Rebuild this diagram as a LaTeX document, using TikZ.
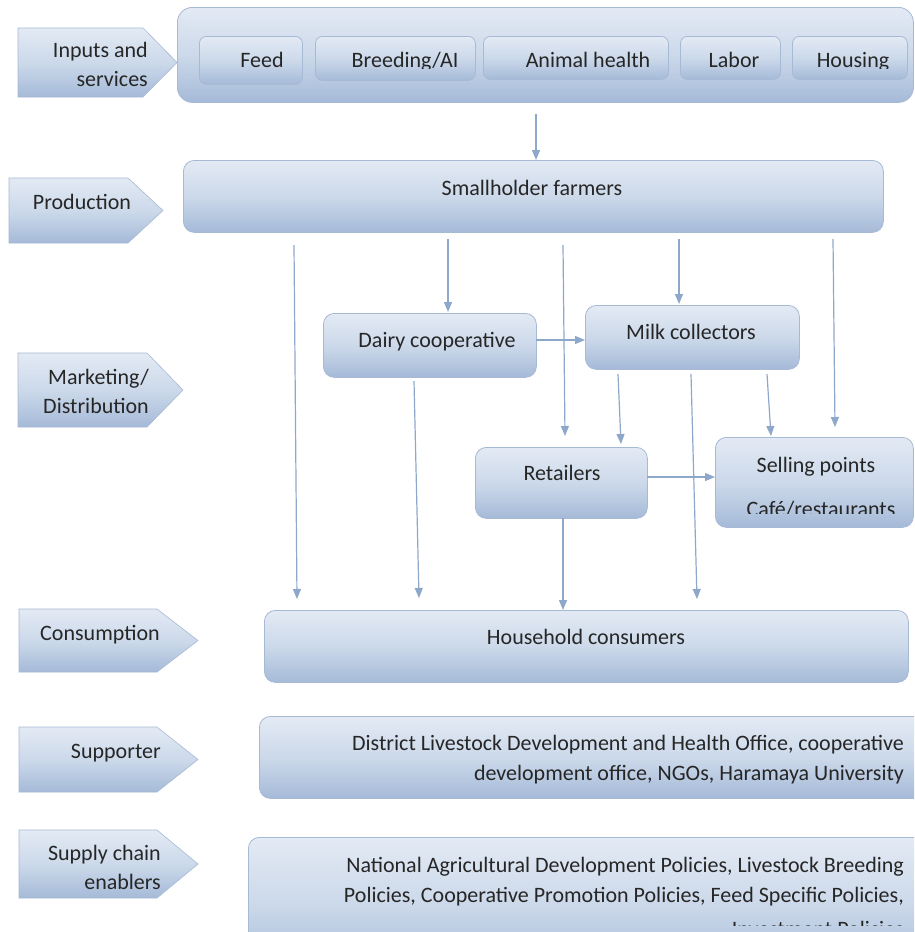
\documentclass[tikz,border=0pt]{standalone}
\usepackage{fontspec}
\setmainfont{Carlito}
\usetikzlibrary{arrows.meta}
\definecolor{bordc}{HTML}{A7BAD5}
\definecolor{ctop}{HTML}{E3EAF4}
\definecolor{cmid}{HTML}{CCD9EA}
\definecolor{cbot}{HTML}{A5BAD8}
\definecolor{arrc}{HTML}{8EA8CC}
\definecolor{txtc}{HTML}{262626}
\tikzset{
  box/.style={draw=bordc, line width=0.8pt, rounded corners=11pt, top color=ctop, bottom color=cbot, middle color=cmid, anchor=north west, inner sep=0pt},
  sbox/.style={box, rounded corners=7pt},
  chev/.style={draw=bordc, line width=0.6pt, top color=ctop, bottom color=cbot, middle color=cmid},
  lbl/.style={text=txtc, font=\fontsize{22}{29}\selectfont, inner sep=0pt},
  arr/.style={draw=arrc, line width=1.2pt, -{Triangle[width=8pt,length=10pt]}}
}
\newcommand{\mkbox}[6]{% style, name, x1,y1,x2,y2
  \node[#1, minimum width={#5-#3}, minimum height={#6-#4}] (#2) at (#3,#4) {};}
\newcommand{\mkchev}[6]{% name x1 y1 xb xt y2
  \path[chev] (#2,#3) -- (#4,#3) -- (#5,{(#3+#6)/2}) -- (#4,#6) -- (#2,#6) -- cycle;
  \coordinate (#1) at ({(#2+#5)/2},{(#3+#6)/2});}
\begin{document}
\begin{tikzpicture}[x=1pt,y=-1pt]
\useasboundingbox (0,0) rectangle (914,932);
\fill[white] (0,0) rectangle (914,932);
\begin{scope}
\clip (0,0) rectangle (914,932);
% ---- chevrons
\mkchev{cInputs}{18}{28}{143}{177}{97}
\node[lbl, anchor=base east] (tInputs1) at (148,57) {Inputs and};
\node[lbl, anchor=base east] (tInputs2) at (148,86) {services};
\mkchev{cProd}{9}{178}{128}{163}{243}
\node[lbl, anchor=base] (tProd) at (82,209) {Production};
\mkchev{cMark}{18}{353}{147}{183}{427}
\node[lbl, anchor=base east] (tMark1) at (149,384) {Marketing/};
\node[lbl, anchor=base east] (tMark2) at (149,413) {Distribution};
\mkchev{cCons}{19}{609}{157}{198}{672}
\node[lbl, anchor=base] (tCons) at (100,640) {Consumption};
\mkchev{cSupp}{19}{727}{157}{198}{792}
\node[lbl, anchor=base east] (tSupp) at (161,758) {Supporter};
\mkchev{cEnab}{19}{830}{157}{198}{898}
\node[lbl, anchor=base east] (tEnab1) at (161,860) {Supply chain};
\node[lbl, anchor=base east] (tEnab2) at (161,889) {enablers};
% ---- inputs box
\mkbox{box, rounded corners=15pt}{inputs}{177}{7}{913}{102}
\mkbox{sbox}{feed}{199}{36}{302}{84}
\mkbox{sbox}{breed}{315}{36}{475}{80}
\mkbox{sbox}{animal}{483}{36}{668}{79}
\mkbox{sbox}{labor}{680}{36}{780}{79}
\mkbox{sbox}{housing}{792}{36}{907}{79}
\begin{scope}
\clip (190,30) rectangle (910,68.5);
\node[lbl, anchor=base] (tFeed) at (262,67) {Feed};
\node[lbl, anchor=base] (tBreed) at (405,67) {Breeding/AI};
\node[lbl, anchor=base] (tAnimal) at (588,67) {Animal health};
\node[lbl, anchor=base] (tLabor) at (734,67) {Labor};
\node[lbl, anchor=base] (tHousing) at (853,67) {Housing};
\end{scope}
% ---- production and marketing boxes
\mkbox{box}{small}{183}{160}{883}{232}
\node[lbl, anchor=base] (tSmall) at (532,195) {Smallholder farmers};
\mkbox{box}{dairy}{323}{313}{536}{377}
\node[lbl, anchor=base] (tDairy) at (437,347) {Dairy cooperative};
\mkbox{box}{milk}{585}{305}{799}{369}
\node[lbl, anchor=base] (tMilk) at (691,339) {Milk collectors};
\mkbox{box}{retail}{475}{447}{647}{518}
\node[lbl, anchor=base] (tRetail) at (562,480) {Retailers};
\mkbox{box}{sell}{715}{437}{913}{527}
\node[lbl, anchor=base] (tSell) at (816,472) {Selling points};
\begin{scope}
\clip (715,437) rectangle (913,513);
\node[lbl, anchor=base] (tCafe) at (821,516) {Café/restaurants};
\end{scope}
% ---- consumption, supporter, enablers
\mkbox{box}{house}{264}{610}{908}{682}
\node[lbl, anchor=base] (tHouse) at (586,644) {Household consumers};
\mkbox{box}{supp}{259}{716}{935}{798}
\node[lbl, anchor=base east] (tSuppB1) at (904,750) {District Livestock Development and Health Office, cooperative};
\node[lbl, anchor=base east] (tSuppB2) at (904,780) {development office, NGOs, Haramaya University};
\mkbox{box}{enab}{248}{837}{935}{970}
\begin{scope}
\clip (248,837) rectangle (914,925);
\node[lbl, anchor=base east] (tEnabB1) at (904,872) {National Agricultural Development Policies, Livestock Breeding};
\node[lbl, anchor=base east] (tEnabB2) at (904,902) {Policies, Cooperative Promotion Policies, Feed Specific Policies,};
\node[lbl, anchor=base east] (tEnabB3) at (904,936) {Investment Policies};
\end{scope}
% ---- arrow coordinates
\coordinate (i0) at (536,114); \coordinate (s0) at (536,160);
\coordinate (sa) at (294,245); \coordinate (ha) at (297,599);
\coordinate (sb) at (448,239); \coordinate (db) at (448,312);
\coordinate (sc) at (563,245); \coordinate (rc) at (565,436);
\coordinate (sd) at (679,239); \coordinate (md) at (679,304);
\coordinate (se) at (833,239); \coordinate (pe) at (835,427);
\coordinate (df) at (536,340); \coordinate (mf) at (585,340);
\coordinate (mg) at (618,374); \coordinate (rg) at (621,444);
\coordinate (mh) at (691,374); \coordinate (hh) at (697,599);
\coordinate (mi) at (767,374); \coordinate (pi) at (771,436);
\coordinate (rj) at (647,477); \coordinate (pj) at (715,477);
\coordinate (rk) at (563,518); \coordinate (hk) at (563,610);
\coordinate (dl) at (414,381); \coordinate (hl) at (419,598);
\draw[arr] (i0) -- (s0);
\draw[arr] (sa) -- (ha);
\draw[arr] (sb) -- (db);
\draw[arr] (sc) -- (rc);
\draw[arr] (sd) -- (md);
\draw[arr] (se) -- (pe);
\draw[arr] (df) -- (mf);
\draw[arr] (mg) -- (rg);
\draw[arr] (mh) -- (hh);
\draw[arr] (mi) -- (pi);
\draw[arr] (rj) -- (pj);
\draw[arr] (rk) -- (hk);
\draw[arr] (dl) -- (hl);
\end{scope}
\end{tikzpicture}
\end{document}
